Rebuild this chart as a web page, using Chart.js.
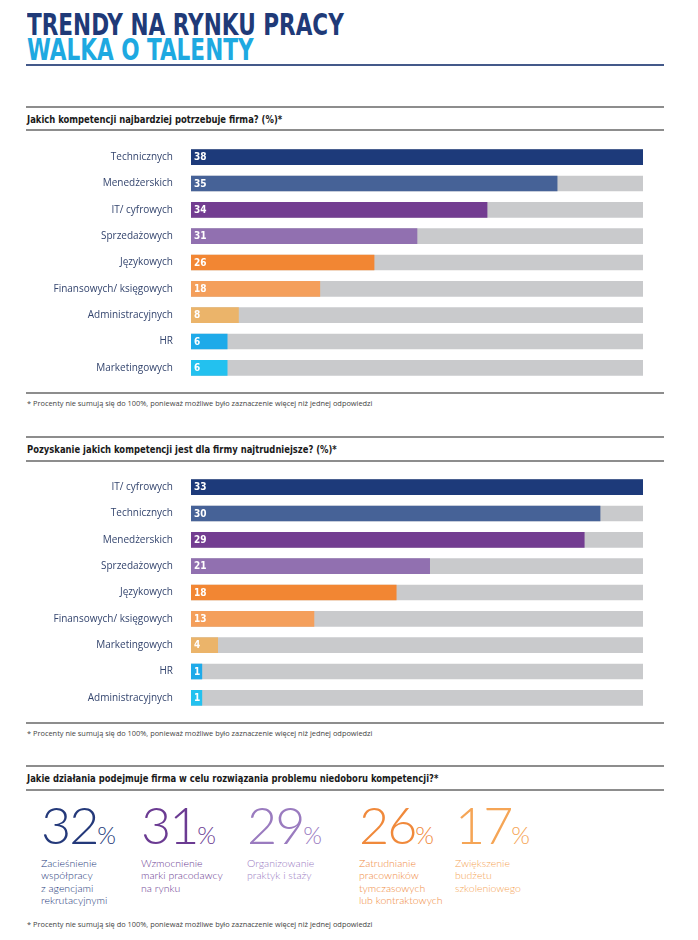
<!DOCTYPE html>
<html lang="pl">
<head>
<meta charset="utf-8">
<script src="https://cdn.jsdelivr.net/npm/chart.js@4"></script>
<style>
  html, body { margin: 0; padding: 0; background: #fff; }
  #page { position: relative; width: 698px; height: 940px; overflow: hidden; font-family: "Open Sans", sans-serif; }
  .abs { position: absolute; }
  .title { left: 27px; font-family: "Liberation Sans Narrow", "DejaVu Sans Condensed", sans-serif; font-weight: bold; font-size: 30px; line-height: 1; white-space: nowrap; transform: scaleX(0.8); transform-origin: 0 0; }
  .rule { left: 26px; width: 638px; height: 1.5px; background: #8d8d8d; }
  .head { left: 27px; font-family: "Liberation Sans Narrow", "DejaVu Sans Condensed", sans-serif; font-weight: bold; font-size: 11px; color: #1a1a1a; line-height: 1; white-space: nowrap; transform: scaleX(0.85); transform-origin: 0 0; }
  .note { left: 27px; font-size: 7.4px; color: #444; line-height: 1; white-space: nowrap; }
  .big { font-family: Lato, "Open Sans", sans-serif; font-weight: 300; line-height: 1; white-space: nowrap; }
  .big .num { font-size: 52px; letter-spacing: -2px; }
  .big .pct { font-size: 24px; }
  .desc { font-family: Lato, "Open Sans", sans-serif; font-weight: 300; font-size: 10.5px; line-height: 12.3px; white-space: nowrap; }
</style>
</head>
<body>
<div id="page">
  <div class="abs title" style="top:10px;color:#1f3a78;">TRENDY NA RYNKU PRACY</div>
  <div class="abs title" style="top:35px;color:#1ea9e1;">WALKA O TALENTY</div>
  <div class="abs" style="left:26px;top:64px;width:638px;height:2px;background:#44598a;"></div>

  <div class="abs rule" style="top:106px;"></div>
  <div class="abs head" style="top:114px;">Jakich kompetencji najbardziej potrzebuje firma? (%)*</div>
  <div class="abs rule" style="top:129px;"></div>
  <canvas id="chart1" class="abs" style="left:0;top:144px;" width="643" height="237"></canvas>
  <div class="abs rule" style="top:392px;"></div>
  <div class="abs note" style="top:400px;">* Procenty nie sumują się do 100%, ponieważ możliwe było zaznaczenie więcej niż jednej odpowiedzi</div>

  <div class="abs rule" style="top:436px;"></div>
  <div class="abs head" style="top:444px;">Pozyskanie jakich kompetencji jest dla firmy najtrudniejsze? (%)*</div>
  <div class="abs rule" style="top:460px;"></div>
  <canvas id="chart2" class="abs" style="left:0;top:474px;" width="643" height="237"></canvas>
  <div class="abs rule" style="top:722px;"></div>
  <div class="abs note" style="top:730px;">* Procenty nie sumują się do 100%, ponieważ możliwe było zaznaczenie więcej niż jednej odpowiedzi</div>

  <div class="abs rule" style="top:765px;"></div>
  <div class="abs head" style="top:773px;">Jakie działania podejmuje firma w celu rozwiązania problemu niedoboru kompetencji?*</div>
  <div class="abs rule" style="top:789px;"></div>
  <div id="actions"></div>
  <div class="abs note" style="top:921px;">* Procenty nie sumują się do 100%, ponieważ możliwe było zaznaczenie więcej niż jednej odpowiedzi</div>
</div>

<script>
// Chart 1: Jakich kompetencji najbardziej potrzebuje firma?
const needCats = ['Technicznych', 'Menedżerskich', 'IT/ cyfrowych', 'Sprzedażowych', 'Językowych',
  'Finansowych/ księgowych', 'Administracyjnych', 'HR', 'Marketingowych'];
const needValues = [38, 35, 34, 31, 26, 18, 8, 6, 6];
// bar length as drawn in the picture, % of the grey track
const needShown = [100, 81, 65.5, 50, 40.5, 28.5, 10.5, 8, 8];

// Chart 2: Pozyskanie jakich kompetencji jest dla firmy najtrudniejsze?
const hardCats = ['IT/ cyfrowych', 'Technicznych', 'Menedżerskich', 'Sprzedażowych', 'Językowych',
  'Finansowych/ księgowych', 'Marketingowych', 'HR', 'Administracyjnych'];
const hardValues = [33, 30, 29, 21, 18, 13, 4, 1, 1];
const hardShown = [100, 90.5, 87, 52.8, 45.4, 27.2, 5.9, 2.4, 2.4];

const trackMax = 100;
const barColors = ['#1d3a7a', '#466297', '#733d91', '#9170b0', '#f28633', '#f49f5b', '#ebb46a', '#1eaae9', '#23c1ef'];

// Bottom: Jakie działania podejmuje firma...
const actionValues = [32, 31, 29, 26, 17];
const actionLabels = [
  ['Zacieśnienie', 'współpracy', 'z agencjami', 'rekrutacyjnymi'],
  ['Wzmocnienie', 'marki pracodawcy', 'na rynku'],
  ['Organizowanie', 'praktyk i staży'],
  ['Zatrudnianie', 'pracowników', 'tymczasowych', 'lub kontraktowych'],
  ['Zwiększenie', 'budżetu', 'szkoleniowego']
];
const actionColors = ['#24397a', '#6b3b92', '#9a7bbf', '#f0893b', '#f5a556'];
const actionX = [41, 141, 247, 359, 455];

// category names left of the bars + white value at bar start
function barText(values) {
  return {
    id: 'barText',
    afterDatasetsDraw(chart) {
      const ctx = chart.ctx;
      const yScale = chart.scales.y;
      const meta = chart.getDatasetMeta(0);
      ctx.save();
      ctx.textBaseline = 'middle';
      ctx.font = '10px "Open Sans", sans-serif';
      ctx.fillStyle = '#34456e';
      ctx.textAlign = 'right';
      chart.data.labels.forEach((lab, i) => {
        ctx.fillText(lab, chart.chartArea.left - 18, yScale.getPixelForValue(i));
      });
      ctx.fillStyle = '#fff';
      ctx.font = 'bold 10px "Liberation Sans Narrow", "DejaVu Sans Condensed", sans-serif';
      ctx.textAlign = 'left';
      meta.data.forEach((bar, i) => {
        ctx.fillText(String(values[i]), bar.base + 3, bar.y + 0.5);
      });
      ctx.restore();
    }
  };
}

function makeBars(id, cats, values, shown) {
  new Chart(document.getElementById(id), {
    type: 'bar',
    data: {
      labels: cats,
      datasets: [
        { data: shown, backgroundColor: barColors, order: 1, grouped: false, barThickness: 15 },
        { data: cats.map(() => trackMax), backgroundColor: '#c9cacc', order: 2, grouped: false, barThickness: 15 }
      ]
    },
    options: {
      indexAxis: 'y',
      responsive: false,
      animation: false,
      layout: { padding: 0 },
      plugins: { legend: { display: false }, tooltip: { enabled: false } },
      scales: {
        x: { min: 0, max: trackMax, display: false },
        y: {
          grid: { display: false, drawTicks: false },
          border: { display: false },
          ticks: { display: false },
          afterFit: s => { s.width = 191; }
        }
      }
    },
    plugins: [barText(values)]
  });
}

makeBars('chart1', needCats, needValues, needShown);
makeBars('chart2', hardCats, hardValues, hardShown);

// big numbers
const box = document.getElementById('actions');
actionValues.forEach((v, i) => {
  const big = document.createElement('div');
  big.className = 'abs big';
  big.style.left = actionX[i] + 'px';
  big.style.top = '798px';
  big.style.color = actionColors[i];
  big.innerHTML = '<span class="num">' + v + '</span><span class="pct">%</span>';
  box.appendChild(big);
  const d = document.createElement('div');
  d.className = 'abs desc';
  d.style.left = actionX[i] + 'px';
  d.style.top = '857px';
  d.style.color = actionColors[i];
  d.innerHTML = actionLabels[i].join('<br>');
  box.appendChild(d);
});
</script>
</body>
</html>
